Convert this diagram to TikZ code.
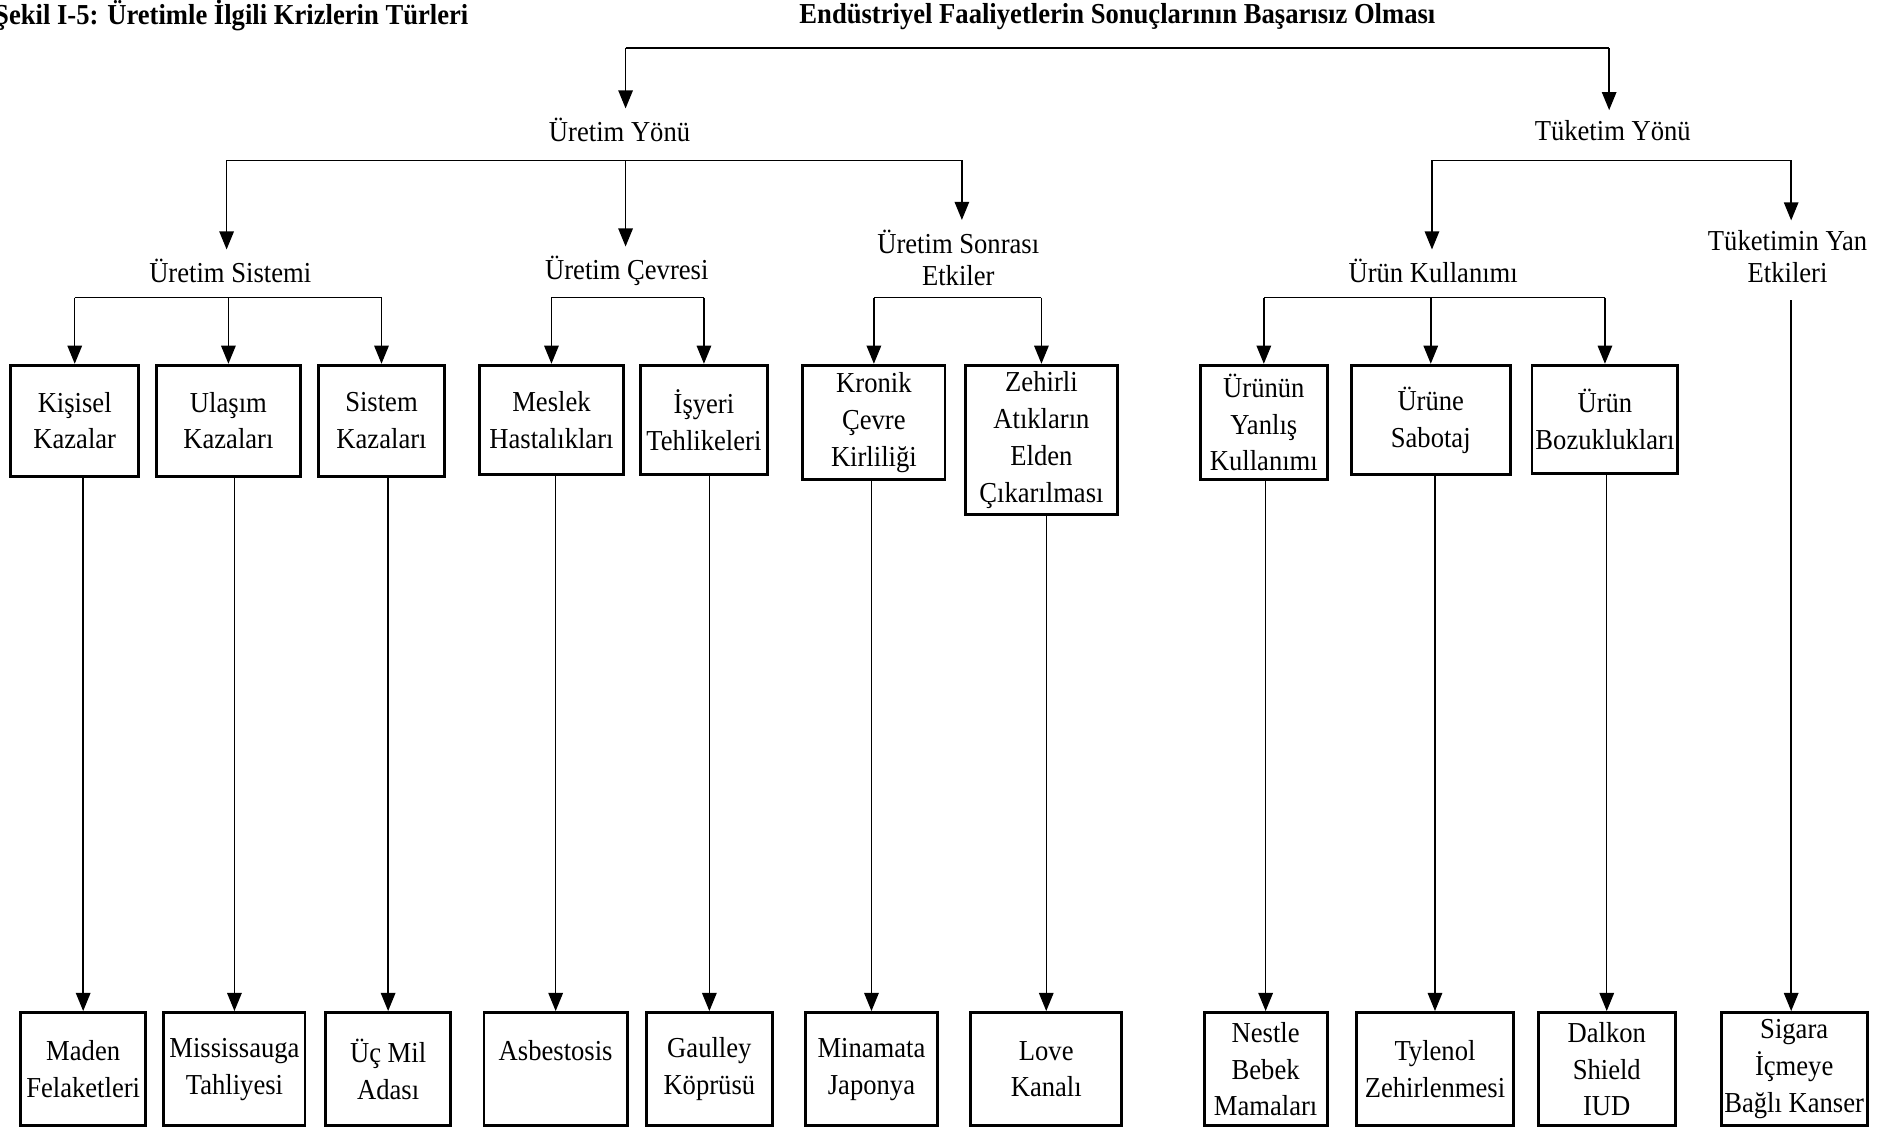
\documentclass[tikz,border=0pt]{standalone}
\usepackage{fontspec}
\setmainfont{Liberation Serif}[FakeStretch=0.92]
\usetikzlibrary{arrows.meta}
\begin{document}
\begin{tikzpicture}[x=1pt,y=-1pt,
  conn/.style={line width=1.2pt},
  arr/.style={line width=1.2pt,-{Triangle[length=15pt,width=12pt]}},
  tolbl/.style={arr,shorten >=8pt},
  box/.style={draw,line width=2.4pt,align=center,inner sep=0pt,
    font=\fontsize{24}{30.5}\selectfont},
  lbl/.style={align=center,inner sep=0pt,font=\fontsize{24}{27}\selectfont},
  ttl/.style={inner sep=0pt,font=\fontsize{24}{26}\selectfont\bfseries}]
\clip (0,0) rectangle (1568,939);
\fill[white] (0,0) rectangle (1568,939);

% headings
\node[ttl,anchor=west] (fig) at (-5,13) {Şekil I-5: Üretimle İlgili Krizlerin Türleri};
\node[ttl] (root) at (927,14) {Endüstriyel Faaliyetlerin Sonuçlarının Başarısız Olması};

\node[lbl] (uyon) at (514,108) {Üretim Yönü};
\node[lbl] (tyon) at (1338,108) {Tüketim Yönü};

\node[lbl] (usis) at (191,225) {Üretim Sistemi};
\node[lbl] (ucev) at (520,225) {Üretim Çevresi};
\node[lbl] (uson) at (795,214) {Üretim Sonrası\\Etkiler};
\node[lbl] (ukul) at (1189,225) {Ürün Kullanımı};
\node[lbl] (tyan) at (1483,213) {Tüketimin Yan\\Etkileri};

% upper row of boxes
\node[box,minimum width=106pt,minimum height=92pt] (kisisel) at (62,349) {Kişisel\\Kazalar};
\node[box,minimum width=119pt,minimum height=92pt] (ulasim) at (189.5,349) {Ulaşım\\Kazaları};
\node[box,minimum width=105pt,minimum height=92pt] (sistem) at (316.5,349) {Sistem\\Kazaları};
\node[box,minimum width=119pt,minimum height=91pt] (meslek) at (457.5,348.5) {Meslek\\Hastalıkları};
\node[box,minimum width=106pt,minimum height=91pt] (isyeri) at (584,348.5) {İşyeri\\Tehlikeleri};
\node[box,minimum width=118pt,minimum height=95pt] (kronik) at (725,350.5) {Kronik\\Çevre\\Kirliliği};
\node[box,minimum width=126pt,minimum height=124pt] (zehirli) at (864,365) {Zehirli\\Atıkların\\Elden\\Çıkarılması};
\node[box,minimum width=105pt,minimum height=95pt] (yanlis) at (1048.5,350.5) {Ürünün\\Yanlış\\Kullanımı};
\node[box,minimum width=132pt,minimum height=91pt] (sabotaj) at (1187,348.5) {Ürüne\\Sabotaj};
\node[box,minimum width=121pt,minimum height=90pt] (bozuk) at (1331.5,348) {Ürün\\Bozuklukları};

% lower row of boxes
\node[box,minimum width=104pt,minimum height=94pt] (maden) at (69,887) {Maden\\Felaketleri};
\node[box,minimum width=117pt,minimum height=94pt] (miss) at (194.5,887) {Mississauga\\Tahliyesi};
\node[box,minimum width=104pt,minimum height=94pt] (ucmil) at (322,887) {Üç Mil\\Adası};
\node[box,minimum width=119pt,minimum height=94pt] (asbest) at (461,887) {Asbestosis\\\phantom{A}};
\node[box,minimum width=105pt,minimum height=94pt] (gaulley) at (588.5,887) {Gaulley\\Köprüsü};
\node[box,minimum width=110pt,minimum height=94pt] (minamata) at (723,887) {Minamata\\Japonya};
\node[box,minimum width=125pt,minimum height=94pt] (love) at (868,887) {Love\\Kanalı};
\node[box,minimum width=102pt,minimum height=94pt] (nestle) at (1050,887) {Nestle\\Bebek\\Mamaları};
\node[box,minimum width=130pt,minimum height=94pt] (tylenol) at (1190.5,887) {Tylenol\\Zehirlenmesi};
\node[box,minimum width=114pt,minimum height=94pt] (dalkon) at (1333,887) {Dalkon\\Shield\\IUD};
\node[box,minimum width=121pt,minimum height=94pt] (sigara) at (1488.5,887) {Sigara\\İçmeye\\Bağlı Kanser};

% bar under the root
\coordinate (r1) at (519,40);
\coordinate (r2) at (1335,40);
\draw[conn] (r1) -- (r2);
\draw[tolbl] (r1) -- (r1 |- uyon.north);
\draw[tolbl] (r2) -- (r2 |- tyon.north);

% bar under production side
\coordinate (p1) at (188,133);
\coordinate (p2) at (519,133);
\coordinate (p3) at (798,133);
\draw[conn] (p1) -- (p3);
\draw[tolbl] (p1) -- (p1 |- usis.north);
\draw[tolbl] (p2) -- (p2 |- ucev.north);
\draw[tolbl] (p3) -- (p3 |- uson.north);

% bar under consumption side
\coordinate (c1) at (1188,133);
\coordinate (c2) at (1486,133);
\draw[conn] (c1) -- (c2);
\draw[tolbl] (c1) -- (c1 |- ukul.north);
\draw[tolbl] (c2) -- (c2 |- tyan.north);

% bars above the upper boxes
\coordinate (lvl) at (0,247);
\draw[conn] (kisisel.north |- lvl) -- (sistem.north |- lvl);
\draw[arr] (kisisel.north |- lvl) -- (kisisel.north);
\draw[arr] (ulasim.north |- lvl) -- (ulasim.north);
\draw[arr] (sistem.north |- lvl) -- (sistem.north);

\draw[conn] (meslek.north |- lvl) -- (isyeri.north |- lvl);
\draw[arr] (meslek.north |- lvl) -- (meslek.north);
\draw[arr] (isyeri.north |- lvl) -- (isyeri.north);

\draw[conn] (kronik.north |- lvl) -- (zehirli.north |- lvl);
\draw[arr] (kronik.north |- lvl) -- (kronik.north);
\draw[arr] (zehirli.north |- lvl) -- (zehirli.north);

\draw[conn] (yanlis.north |- lvl) -- (bozuk.north |- lvl);
\draw[arr] (yanlis.north |- lvl) -- (yanlis.north);
\draw[arr] (sabotaj.north |- lvl) -- (sabotaj.north);
\draw[arr] (bozuk.north |- lvl) -- (bozuk.north);

% long drops to the examples
\draw[arr] (maden.north |- kisisel.south) -- (maden.north);
\draw[arr] (miss.north |- ulasim.south) -- (miss.north);
\draw[arr] (ucmil.north |- sistem.south) -- (ucmil.north);
\draw[arr] (asbest.north |- meslek.south) -- (asbest.north);
\draw[arr] (gaulley.north |- isyeri.south) -- (gaulley.north);
\draw[arr] (minamata.north |- kronik.south) -- (minamata.north);
\draw[arr] (love.north |- zehirli.south) -- (love.north);
\draw[arr] (nestle.north |- yanlis.south) -- (nestle.north);
\draw[arr] (tylenol.north |- sabotaj.south) -- (tylenol.north);
\draw[arr] (dalkon.north |- bozuk.south) -- (dalkon.north);
\draw[arr,shorten <=14pt] (c2 |- tyan.south) -- (c2 |- sigara.north);
\end{tikzpicture}
\end{document}
